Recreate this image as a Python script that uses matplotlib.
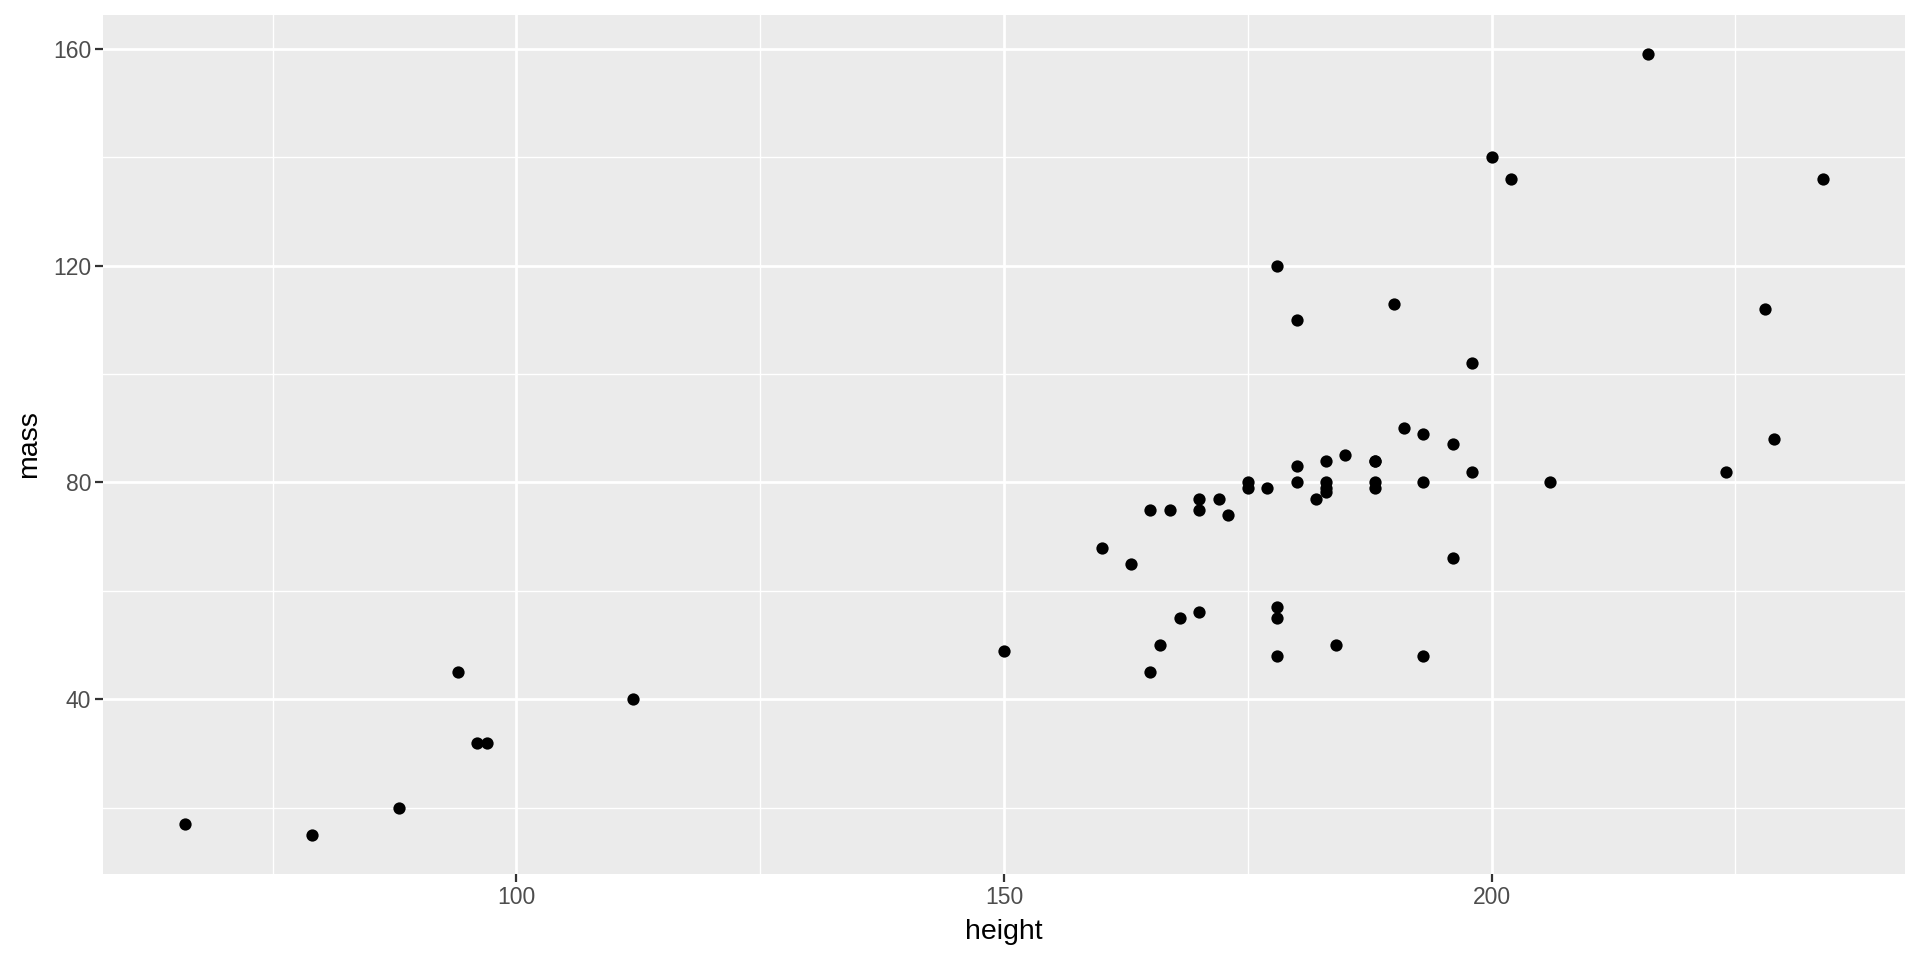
import matplotlib
matplotlib.use("Agg")
import matplotlib.pyplot as plt
from matplotlib.ticker import MultipleLocator

plt.rcParams['font.family'] = ['Liberation Sans', 'DejaVu Sans']

# starwars characters with known height and mass (Jabba left out)
height = [172, 167, 96, 202, 150, 178, 165, 97, 183, 182, 188, 228, 180, 173,
          170, 180, 66, 170, 183, 200, 190, 177, 175, 180, 88, 160, 193, 191,
          196, 224, 112, 175, 178, 94, 163, 188, 198, 196, 184, 188, 185, 183,
          170, 166, 193, 183, 168, 198, 229, 79, 193, 178, 216, 234, 188, 178,
          206, 165]
mass = [77, 75, 32, 136, 49, 120, 75, 32, 84, 77, 84, 112, 80, 74,
        77, 110, 17, 75, 78.2, 140, 113, 79, 79, 83, 20, 68, 89, 90,
        66, 82, 40, 80, 55, 45, 65, 84, 82, 87, 50, 80, 85, 80,
        56.2, 50, 80, 79, 55, 102, 88, 15, 48, 57, 159, 136, 79, 48,
        80, 45]

fig = plt.figure(figsize=(19.2, 9.6), dpi=100)
ax = fig.add_axes([103/1920, 1-874/960, (1905-103)/1920, (874-15)/960])
ax.set_facecolor('#EBEBEB')

ax.scatter(height, mass, s=78, color='black', linewidths=0, zorder=3)

xr = max(height) - min(height)
yr = max(mass) - min(mass)
ax.set_xlim(min(height) - 0.05*xr, max(height) + 0.05*xr)
ax.set_ylim(min(mass) - 0.05*yr, max(mass) + 0.05*yr)

ax.xaxis.set_major_locator(MultipleLocator(50))
ax.xaxis.set_minor_locator(MultipleLocator(25))
ax.yaxis.set_major_locator(MultipleLocator(40))
ax.yaxis.set_minor_locator(MultipleLocator(20))

ax.grid(which='major', color='white', linewidth=2.0)
ax.grid(which='minor', color='white', linewidth=1.0)
ax.set_axisbelow(True)
for s in ax.spines.values():
    s.set_visible(False)

ax.tick_params(which='major', length=5.5, width=1.6, color='#333333',
               labelsize=16.5, labelcolor='#4D4D4D', pad=3)
ax.tick_params(which='minor', length=0)

ax.set_xlabel('height', fontsize=20.5, color='black', labelpad=7)
ax.set_ylabel('mass', fontsize=20.5, color='black', labelpad=8)

fig.savefig('out.png', dpi=100, facecolor='white')
